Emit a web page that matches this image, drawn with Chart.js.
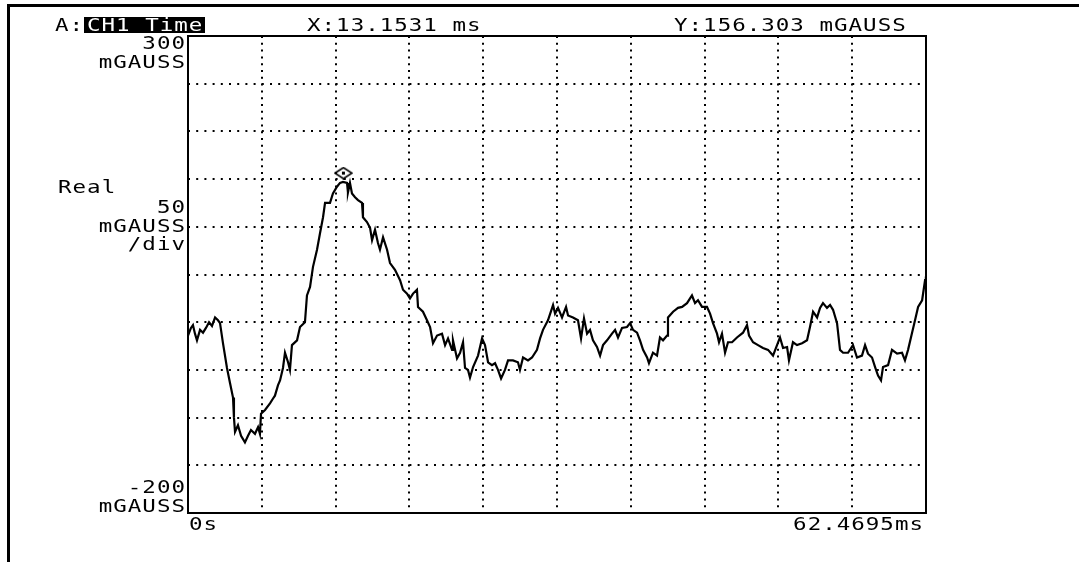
<!DOCTYPE html>
<html>
<head>
<meta charset="utf-8">
<script src="https://cdn.jsdelivr.net/npm/chart.js@4/dist/chart.umd.min.js"></script>
<style>
  html, body { margin: 0; padding: 0; background: #fff; }
  #wrap { position: relative; width: 1079px; height: 562px; }
  #frame { position: absolute; left: 7px; top: 4px; right: 0; bottom: 0;
           border-top: 3px solid #000; border-left: 3px solid #000; }
  canvas { position: absolute; left: 0; top: 0; }
</style>
</head>
<body>
<div id="wrap">
  <div id="frame"></div>
  <canvas id="myChart" width="1079" height="562"></canvas>
</div>
<script>
// trace: time in ms, field in mGAUSS
var timeMs = [0, 0.25, 0.42, 0.59, 0.76, 1.02, 1.27, 1.52, 1.78, 2.03,
    2.29, 2.54, 2.71, 2.96, 3.30, 3.56, 3.81, 3.89, 3.98, 4.23,
    4.49, 4.82, 5.08, 5.33, 5.67, 5.93, 6.09, 6.18, 6.52, 6.94,
    7.20, 7.36, 7.62, 7.79, 8.04, 8.21, 8.47, 8.63, 8.80, 9.23,
    9.48, 9.90, 10.07, 10.33, 10.58, 10.92, 11.17, 11.43, 11.60, 12.02,
    12.27, 12.61, 12.87, 13.12, 13.46, 13.54, 13.71, 13.88, 14.14, 14.39,
    14.73, 14.81, 15.15, 15.41, 15.58, 15.83, 16.08, 16.25, 16.51, 16.85,
    17.10, 17.52, 17.95, 18.20, 18.54, 18.79, 19.05, 19.38, 19.47, 19.89,
    20.23, 20.49, 20.74, 21.08, 21.50, 21.76, 22.01, 22.35, 22.43, 22.77,
    23.03, 23.28, 23.45, 23.70, 23.87, 24.13, 24.55, 24.89, 25.14, 25.40,
    25.73, 25.99, 26.24, 26.50, 26.83, 27.09, 27.51, 27.93, 28.10, 28.36,
    28.78, 29.12, 29.54, 29.80, 30.05, 30.47, 30.90, 31.07, 31.32, 31.66,
    32.00, 32.17, 32.59, 33.01, 33.27, 33.52, 33.78, 34.03, 34.28, 34.62,
    34.88, 35.13, 35.47, 35.89, 36.15, 36.40, 36.74, 37.16, 37.42, 37.67,
    38.01, 38.26, 38.52, 38.86, 39.02, 39.36, 39.70, 39.95, 40.21, 40.55,
    40.63, 41.06, 41.48, 41.82, 42.24, 42.66, 42.92, 43.17, 43.51, 43.93,
    44.19, 44.44, 44.78, 44.95, 45.20, 45.46, 45.71, 46.05, 46.47, 46.98,
    47.32, 47.49, 47.83, 48.25, 48.67, 49.10, 49.52, 49.86, 50.11, 50.37,
    50.71, 50.87, 51.21, 51.55, 51.98, 52.40, 52.65, 52.91, 53.25, 53.50,
    53.75, 54.09, 54.35, 54.60, 54.94, 55.19, 55.45, 55.87, 56.29, 56.63,
    57.05, 57.31, 57.56, 57.90, 58.16, 58.41, 58.66, 58.83, 59.26, 59.59,
    60.02, 60.44, 60.69, 60.95, 61.29, 61.54, 61.80, 62.14, 62.39, 62.46];
var fieldMg = [-14, -6, -3, -12, -19, -8, -11, -6, 0, -4,
    5, 2, -1, -22, -48, -64, -79, -100, -115, -108,
    -119, -126, -119, -113, -117, -110, -117, -96, -92, -85,
    -80, -77, -66, -61, -48, -32, -42, -50, -24, -19,
    -5, 0, 28, 37, 58, 76, 93, 110, 125, 125,
    135, 142, 146, 147, 146, 136, 146, 135, 131, 128,
    125, 110, 105, 99, 86, 97, 83, 76, 89, 76,
    62, 55, 44, 34, 30, 25, 30, 34, 16, 11,
    2, -5, -22, -14, -12, -24, -17, -29, -19, -38,
    -32, -21, -48, -50, -58, -47, -35, -17, -24, -42,
    -45, -43, -50, -59, -50, -40, -40, -42, -50, -37,
    -40, -37, -29, -17, -8, 2, 18, 9, 15, 5,
    16, 7, 5, 2, -17, 4, -12, -8, -19, -26,
    -35, -24, -19, -12, -8, -16, -6, -5, -1, -8,
    -11, -19, -29, -37, -43, -32, -35, -16, -19, -14,
    5, 11, 15, 16, 20, 28, 20, 23, 16, 16,
    9, -1, -12, -21, -12, -32, -21, -21, -16, -11,
    -3, -14, -21, -24, -27, -29, -35, -24, -16, -27,
    -26, -40, -21, -24, -22, -19, -5, 11, 5, 15,
    20, 15, 18, 13, -1, -29, -32, -32, -24, -37,
    -35, -24, -33, -37, -47, -56, -61, -47, -45, -29,
    -33, -32, -40, -29, -11, 2, 16, 23, 44, 48];

// marker position (from the readout)
var cursorX = [13.1531];
var cursorY = [156.303];

// axis range and labels
var xRange = [0, 62.4695];
var yRange = [-200, 300];
var yStep = 50;
var xDivs = 10;
var headerTexts = ["A:", "CH1 Time", "X:13.1531 ms", "Y:156.303 mGAUSS"];
var yTopLabel = ["300", "mGAUSS"];
var yMidLabel = ["Real", "50", "mGAUSS", "/div"];
var yBottomLabel = ["-200", "mGAUSS"];
var xLabels = ["0s", "62.4695ms"];

var tracePoints = timeMs.map(function (t, i) { return { x: t, y: fieldMg[i] }; });
var cursorPoints = cursorX.map(function (t, i) { return { x: t, y: cursorY[i] }; });

// little diamond marker
var mk = document.createElement("canvas");
mk.width = 19; mk.height = 13;
var mc = mk.getContext("2d");
mc.strokeStyle = "#000"; mc.lineWidth = 1.5;
mc.beginPath();
mc.moveTo(1, 6.5); mc.lineTo(9.5, 1); mc.lineTo(18, 6.5); mc.lineTo(9.5, 12); mc.closePath();
mc.stroke();
mc.fillStyle = "#000";
mc.fillRect(8, 5, 3, 3);

var FONT = '18px "DejaVu Sans Mono"';
var SX = 1.25; // wide screen font
var SP = 0.8;

function txt(ctx, s, x, y, align) {
    ctx.save();
    ctx.translate(x, y);
    ctx.scale(SX, 1);
    ctx.textAlign = align || "left";
    ctx.fillText(s, align === "right" ? SP : 0, 0);
    ctx.restore();
}

const scopeText = {
    id: "scopeText",
    afterDraw(chart) {
        var ctx = chart.ctx, a = chart.chartArea, xs = chart.scales.x, ys = chart.scales.y;
        ctx.save();
        ctx.strokeStyle = "#000";
        ctx.lineWidth = 2;
        ctx.strokeRect(a.left, a.top, a.right - a.left, a.bottom - a.top);

        ctx.font = FONT;
        ctx.letterSpacing = SP + "px";
        ctx.fillStyle = "#000";
        ctx.textBaseline = "alphabetic";

        // header line
        txt(ctx, headerTexts[0], 55, 31);
        ctx.fillRect(84, 17, 121, 16);
        ctx.fillStyle = "#fff";
        txt(ctx, headerTexts[1], 87, 31);
        ctx.fillStyle = "#000";
        txt(ctx, headerTexts[2], 307, 31);
        txt(ctx, headerTexts[3], 674, 31);

        // left side labels
        var rx = a.left - 3;
        var yt = ys.getPixelForValue(yRange[1]);
        txt(ctx, yTopLabel[0], rx, yt + 13, "right");
        txt(ctx, yTopLabel[1], rx, yt + 32, "right");
        txt(ctx, yMidLabel[0], 58, yt + 157);
        txt(ctx, yMidLabel[1], rx, yt + 177, "right");
        txt(ctx, yMidLabel[2], rx, yt + 196, "right");
        txt(ctx, yMidLabel[3], rx, yt + 214, "right");
        var yb = ys.getPixelForValue(yRange[0]);
        txt(ctx, yBottomLabel[0], rx, yb - 20, "right");
        txt(ctx, yBottomLabel[1], rx, yb - 1, "right");

        // bottom labels
        txt(ctx, xLabels[0], xs.getPixelForValue(xRange[0]) + 1, a.bottom + 17);
        txt(ctx, xLabels[1], xs.getPixelForValue(xRange[1]) - 3, a.bottom + 17, "right");
        ctx.restore();
    }
};

new Chart(document.getElementById("myChart").getContext("2d"), {
    type: "line",
    data: {
        datasets: [
            {
                label: "CH1 Time",
                data: tracePoints,
                borderColor: "#000",
                borderWidth: 2.2,
                pointRadius: 0,
                tension: 0,
                fill: false,
            },
            {
                label: "cursor",
                data: cursorPoints,
                showLine: false,
                pointStyle: mk,
                pointRadius: 8,
            },
        ],
    },
    options: {
        responsive: false,
        animation: false,
        layout: { padding: { left: 188, top: 36, right: 153, bottom: 49 } },
        plugins: { legend: { display: false }, tooltip: { enabled: false } },
        scales: {
            x: {
                type: "linear",
                min: xRange[0],
                max: xRange[1],
                afterBuildTicks: function (s) {
                    var tk = [];
                    for (var i = 0; i <= xDivs; i++) tk.push({ value: xRange[0] + (i * (xRange[1] - xRange[0])) / xDivs });
                    s.ticks = tk;
                },
                ticks: { display: false },
                grid: { color: "#000", lineWidth: 2, drawTicks: false },
                border: { display: false, dash: [2, 4.8] },
            },
            y: {
                min: yRange[0],
                max: yRange[1],
                ticks: { display: false, stepSize: yStep },
                grid: { color: "#000", lineWidth: 2, drawTicks: false },
                border: { display: false, dash: [2, 6.2] },
            },
        },
    },
    plugins: [scopeText],
});
</script>
</body>
</html>
